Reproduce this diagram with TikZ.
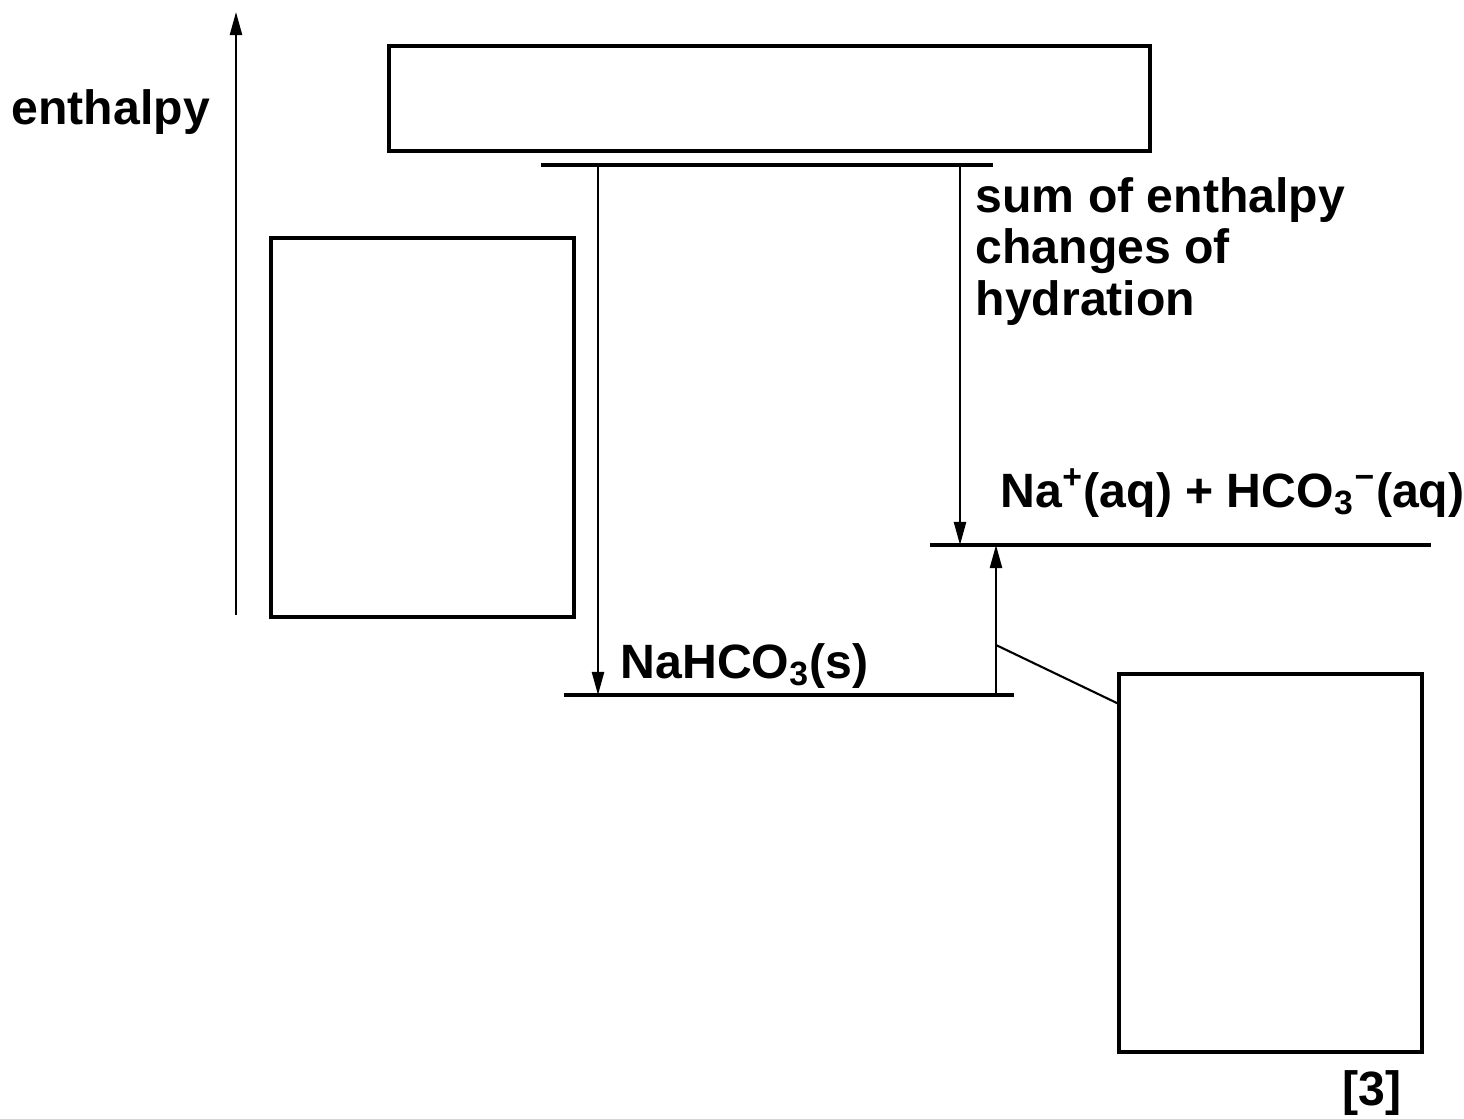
\documentclass[tikz,border=0pt]{standalone}
\usepackage{fontspec}
\setmainfont{Liberation Sans}
\usetikzlibrary{arrows.meta, positioning}
\tikzset{
  answerbox/.style={
    draw, line width=1pt, inner sep=0pt,
    minimum width=3.03cm, minimum height=3.79cm
  },
  levelline/.style={line width=1.2pt},
  enarrow/.style={-{Triangle[length=2.3mm, width=1.2mm]}, line width=0.65pt},
  leaderline/.style={line width=0.6pt},
  labeltext/.style={
    font=\fontsize{13.7}{14.6}\selectfont\bfseries,
    inner sep=0pt, anchor=base west, align=left
  }
}

\begin{document}
\begin{tikzpicture}[x=0.01cm, y=-0.01cm]
\useasboundingbox (0,0) rectangle (1464,1118);

% boxes to fill in
\node[answerbox, minimum width=7.61cm, minimum height=1.05cm] (topbox) at (769.5,98.5) {};
\node[answerbox] (leftbox) at (422.5,427.5) {};
\node[answerbox, minimum height=3.78cm] (rightbox) at (1270.5,863) {};

% enthalpy axis
\coordinate (axisbot) at (236,615);
\coordinate (axistop) at (236,12);
\draw[enarrow] (axisbot) -- (axistop);
\node[labeltext] (axislabel) at (11,124) {enthalpy};

% levels
\coordinate (gasL) at (541,165);
\coordinate (gasR) at (993,165);
\coordinate (aqL)  at (930,545);
\coordinate (aqR)  at (1431,545);
\coordinate (solL) at (564,695);
\coordinate (solR) at (1014,695);
\draw[levelline] (gasL) -- (gasR);
\draw[levelline] (aqL)  -- (aqR);
\draw[levelline] (solL) -- (solR);

% arrows between levels
\coordinate (lattop) at (598,165);
\coordinate (latbot) at (598,695);
\coordinate (hydtop) at (960,165);
\coordinate (hydbot) at (960,545);
\coordinate (soltop) at (996,545);
\coordinate (solbot) at (996,695);
\draw[enarrow] (lattop) -- (latbot);
\draw[enarrow] (hydtop) -- (hydbot);
\draw[enarrow] (solbot) -- (soltop);

% leader to the box
\coordinate (leadstart) at (996,645);
\draw[leaderline] (leadstart) -- ([yshift=-0.31cm]rightbox.north west);

% labels
\node[labeltext, anchor=north west] (hydlabel) at (975,177)
  {sum of enthalpy\\changes of\\hydration};
\node[labeltext] (aqlabel) at (1000,507)
  {Na\textsuperscript{+}(aq) + HCO\textsubscript{3}\textsuperscript{−}(aq)};
\node[labeltext] (sollabel) at (620,678) {NaHCO\textsubscript{3}(s)};
\node[labeltext] (marks) at (1342,1105) {[3]};
\end{tikzpicture}
\end{document}
